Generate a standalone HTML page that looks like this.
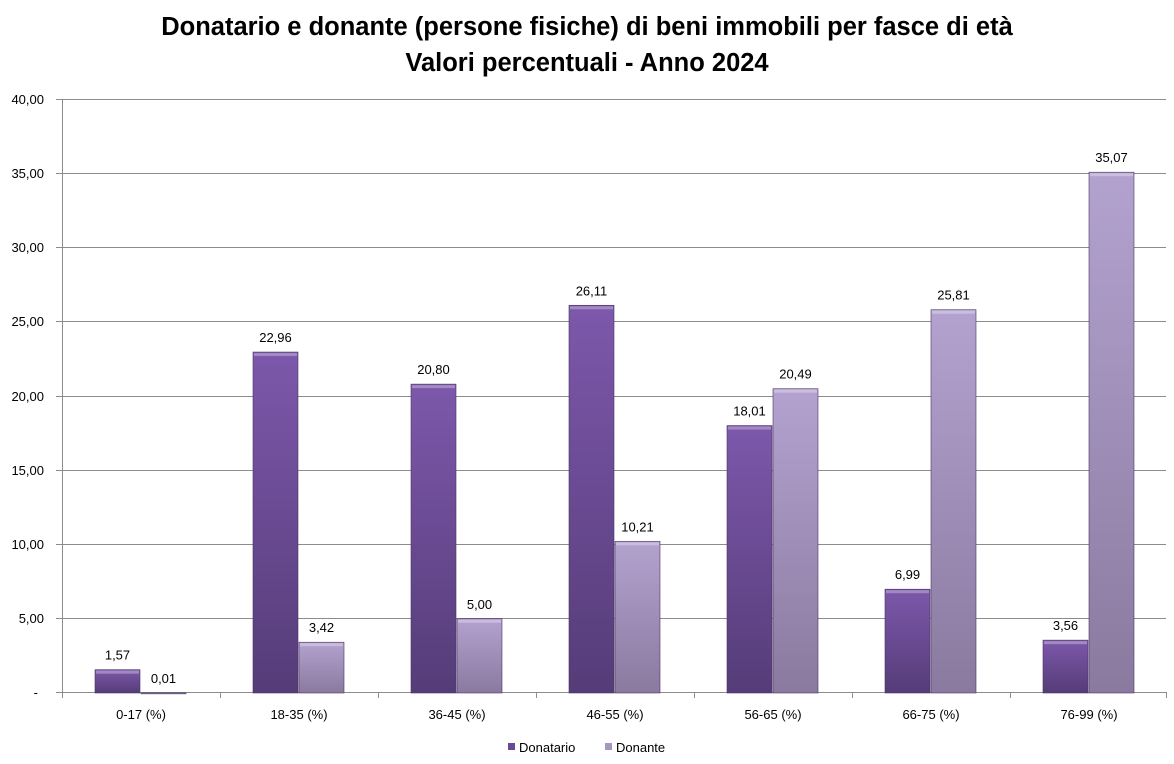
<!DOCTYPE html>
<html><head><meta charset="utf-8"><style>
html,body{margin:0;padding:0;background:#fff}
svg{display:block}
text{font-family:"Liberation Sans",sans-serif}
</style></head><body>
<svg width="1174" height="764" viewBox="0 0 1174 764" xmlns="http://www.w3.org/2000/svg">
<defs>
<linearGradient id="g1" x1="0" y1="0" x2="0" y2="1"><stop offset="0" stop-color="#7d58ab"/><stop offset="1" stop-color="#553c78"/></linearGradient>
<linearGradient id="g2" x1="0" y1="0" x2="0" y2="1"><stop offset="0" stop-color="#b3a2cf"/><stop offset="1" stop-color="#8a7a9f"/></linearGradient>
</defs>
<text x="587" y="35" text-anchor="middle" font-size="25.5" font-weight="bold">Donatario e donante (persone fisiche) di beni immobili per fasce di età</text>
<text x="587" y="71" text-anchor="middle" font-size="25.5" font-weight="bold">Valori percentuali - Anno 2024</text>
<g stroke="#8c8c8c" stroke-width="1">
<line x1="56" y1="99.5" x2="1166" y2="99.5"/><line x1="56" y1="173.5" x2="1166" y2="173.5"/>
<line x1="56" y1="247.5" x2="1166" y2="247.5"/><line x1="56" y1="321.5" x2="1166" y2="321.5"/>
<line x1="56" y1="396.5" x2="1166" y2="396.5"/><line x1="56" y1="470.5" x2="1166" y2="470.5"/>
<line x1="56" y1="544.5" x2="1166" y2="544.5"/><line x1="56" y1="618.5" x2="1166" y2="618.5"/>
<line x1="56" y1="692.5" x2="1166" y2="692.5"/><line x1="62.5" y1="99" x2="62.5" y2="698"/>
<line x1="220.5" y1="692" x2="220.5" y2="698"/><line x1="378.5" y1="692" x2="378.5" y2="698"/>
<line x1="536.5" y1="692" x2="536.5" y2="698"/><line x1="694.5" y1="692" x2="694.5" y2="698"/>
<line x1="852.5" y1="692" x2="852.5" y2="698"/><line x1="1010.5" y1="692" x2="1010.5" y2="698"/>
<line x1="1166.5" y1="692" x2="1166.5" y2="698"/>
</g>
<g font-size="13" text-anchor="end">
<text x="44" y="104">40,00</text><text x="44" y="178">35,00</text><text x="44" y="252">30,00</text>
<text x="44" y="326">25,00</text><text x="44" y="401">20,00</text><text x="44" y="475">15,00</text>
<text x="44" y="549">10,00</text><text x="44" y="623">5,00</text><text x="38" y="697">-</text>
</g>
<g id="bars" stroke="#4a3566" stroke-width="0.6"></g>
<g font-size="13" text-anchor="middle" id="lbl"></g>
<g font-size="13" text-anchor="middle">
<text x="141" y="719">0-17 (%)</text><text x="299" y="719">18-35 (%)</text><text x="457" y="719">36-45 (%)</text>
<text x="615" y="719">46-55 (%)</text><text x="773" y="719">56-65 (%)</text><text x="931" y="719">66-75 (%)</text>
<text x="1089" y="719">76-99 (%)</text>
</g>
<rect x="508" y="743" width="7" height="7" fill="#6a4a93"/>
<text x="519" y="752" font-size="13">Donatario</text>
<rect x="605" y="743" width="7" height="7" fill="#a896c2"/>
<text x="616" y="752" font-size="13">Donante</text>
<script>
var a=[1.57,22.96,20.80,26.11,18.01,6.99,3.56],b=[0.01,3.42,5.00,10.21,20.49,25.81,35.07];
var ns="http://www.w3.org/2000/svg",g=document.getElementById('bars'),L=document.getElementById('lbl');
function f(v){return v.toFixed(2).replace('.',',');}
function bar(x,v,fill){var h=v*14.85,y=693-h;var r=document.createElementNS(ns,'rect');
r.setAttribute('x',x);r.setAttribute('y',y);r.setAttribute('width',45);r.setAttribute('height',Math.max(h,1));
r.setAttribute('fill',fill);g.appendChild(r);
if(h>4){var t=document.createElementNS(ns,'rect');t.setAttribute('x',x+1);t.setAttribute('y',y+1);t.setAttribute('width',43);t.setAttribute('height',3);t.setAttribute('fill','#ffffff');t.setAttribute('opacity','0.3');t.setAttribute('stroke','none');g.appendChild(t);}
var s=document.createElementNS(ns,'text');s.setAttribute('x',x+22.5);s.setAttribute('y',y-10);s.textContent=f(v);L.appendChild(s);}
for(var i=0;i<7;i++){var x=95+158*i;bar(x,a[i],'url(#g1)');bar(x+46,b[i],'url(#g2)');}
</script>
</svg>
</body></html>
